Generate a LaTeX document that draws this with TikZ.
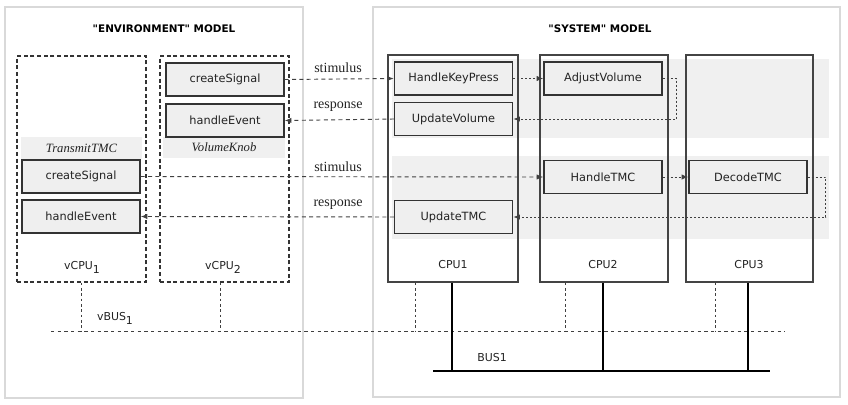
\documentclass[tikz,border=0pt]{standalone}
\usepackage{fontspec}
\setmainfont{DejaVu Sans}
\newfontfamily\serifl{Liberation Serif}
\usetikzlibrary{arrows.meta,fit,calc}
\definecolor{outerc}{HTML}{D9D9D9}
\definecolor{boxline}{HTML}{333333}
\definecolor{boxfill}{HTML}{EFEFEF}
\definecolor{bandfill}{HTML}{F0F0F0}
\definecolor{connline}{HTML}{404040}
\definecolor{cpuline}{HTML}{444444}
\definecolor{txt}{HTML}{222222}
\begin{document}
\begin{tikzpicture}[x=0.75pt,y=-0.75pt,
  box/.style={draw=boxline, fill=boxfill, line width=1.1pt, minimum width=88.5pt, minimum height=24.75pt, inner sep=0pt, font=\fontsize{8.5}{10}\selectfont, text=txt},
  container/.style={draw=outerc, line width=1.6pt, inner sep=0pt},
  vcpubox/.style={draw=boxline, line width=0.9pt, dash pattern=on 3pt off 2pt, inner sep=0pt},
  cpubox/.style={draw=cpuline, line width=0.8pt, inner sep=0pt},
  band/.style={fill=bandfill, draw=none, inner sep=0pt},
  conn/.style={draw=connline, line width=0.7pt, dash pattern=on 3pt off 2.5pt, -{Latex[length=5pt,width=4pt]}},
  innerconn/.style={conn, dash pattern=on 1.5pt off 1.5pt},
  vbus/.style={draw=connline, line width=0.7pt, dash pattern=on 2.5pt off 2.5pt},
  vlink/.style={draw=connline, line width=0.6pt, dash pattern=on 2pt off 2pt},
  bus/.style={draw=black, line width=1.8pt},
  buslink/.style={draw=black, line width=1.6pt},
  title/.style={font=\bfseries\fontsize{7.8}{9}\selectfont, text=black},
  lbl/.style={font=\fontsize{8.2}{9}\selectfont, text=txt, inner sep=1pt},
  msg/.style={font=\serifl\fontsize{10.5}{12}\selectfont, text=txt, inner sep=1pt},
  comp/.style={font=\serifl\itshape\fontsize{9.5}{11}\selectfont, text=txt, inner sep=0pt}
]
\useasboundingbox (0,0) rectangle (848,404);

% outer models
\node[container, fit={(5,7) (303,398)}] (envm) {};
\node[container, fit={(373,7) (840,397)}] (sysm) {};
\node[title] (envt) at (164,29) {\textquotedbl ENVIRONMENT\textquotedbl{} MODEL};
\node[title] (syst) at (600,29) {\textquotedbl SYSTEM\textquotedbl{} MODEL};

% grey bands of the system model
\node[band, fit={(392,59) (829,138)}] (band1) {};
\node[band, fit={(392,156) (829,239)}] (band2) {};

% virtual CPUs
\node[vcpubox, fit={(17,56) (146,282)}] (vcpu1) {};
\node[vcpubox, fit={(160,56) (289,282)}] (vcpu2) {};
\node[band, fit={(21,137) (142,159)}] (tband) {};
\node[comp] (tlbl) at (tband) {TransmitTMC};
\node[band, fit={(163,137) (285,158)}] (vband) {};
\node[comp] (vlbl) at (vband) {VolumeKnob};
\node[lbl] (vcpu1l) at (82,267) {vCPU\raisebox{-3pt}{1}};
\node[lbl] (vcpu2l) at (223,267) {vCPU\raisebox{-3pt}{2}};

% CPUs
\node[cpubox, fit={(388,55) (518,282)}] (cpu1) {};
\node[cpubox, fit={(540,55) (668,282)}] (cpu2) {};
\node[cpubox, fit={(686,55) (813,282)}] (cpu3) {};
\node[lbl] (cpu1l) at (453,265) {CPU1};
\node[lbl] (cpu2l) at (603,265) {CPU2};
\node[lbl] (cpu3l) at (749,265) {CPU3};

% tasks
\node[box] (cs2) at (225,79.5) {createSignal};
\node[box] (he2) at (225,120.5) {handleEvent};
\node[box] (cs1) at (81,176.5) {createSignal};
\node[box] (he1) at (81,216.5) {handleEvent};
\node[box] (hkp) at (453.5,78.5) {HandleKeyPress};
\node[box] (uv) at (453.5,119) {UpdateVolume};
\node[box] (av) at (603,78.5) {AdjustVolume};
\node[box] (htmc) at (603,177) {HandleTMC};
\node[box] (dtmc) at (748,177) {DecodeTMC};
\node[box] (utmc) at (453.5,217) {UpdateTMC};

% messages
\draw[conn] (cs2.east) -- (hkp.west);
\draw[conn] (uv.west) -- (he2.east);
\draw[conn] (cs1.east) -- (htmc.west);
\draw[conn] (utmc.west) -- (he1.east);
\node[msg] (stim1) at (338,68) {stimulus};
\node[msg] (resp1) at (338,107) {response};
\node[msg] (stim2) at (338,167) {stimulus};
\node[msg] (resp2) at (338,205) {response};

\draw[innerconn] (hkp.east) -- (av.west);
\draw[innerconn] (av.east) -- ++(14,0) |- (uv.east);
\draw[innerconn] (htmc.east) -- (dtmc.west);
\draw[innerconn] (dtmc.east) -- ++(18,0) |- (utmc.east);

% virtual bus
\coordinate (vbl) at (51,331);
\coordinate (vbr) at (785,331);
\draw[vbus] (vbl) -- (vbr);
\node[lbl] (vbusl) at (115,318) {vBUS\raisebox{-3pt}{1}};
\draw[vlink] (vcpu1.south) -- (vcpu1.south |- vbl);
\draw[vlink] ($(vcpu2.south)+(-4.5,0)$) coordinate (v2s) -- (v2s |- vbl);
\draw[vlink] ($(cpu1.south)+(-38,0)$) coordinate (c1s) -- (c1s |- vbl);
\draw[vlink] ($(cpu2.south)+(-39,0)$) coordinate (c2s) -- (c2s |- vbl);
\draw[vlink] ($(cpu3.south)+(-34.5,0)$) coordinate (c3s) -- (c3s |- vbl);

% physical bus
\coordinate (bl) at (433,371);
\coordinate (br) at (770,371);
\draw[bus] (bl) -- (br);
\node[lbl] (busl) at (492,358) {BUS1};
\draw[buslink] ($(cpu1.south)+(-1,0)$) coordinate (p1) -- (p1 |- bl);
\draw[buslink] ($(cpu2.south)+(-1,0)$) coordinate (p2) -- (p2 |- bl);
\draw[buslink] ($(cpu3.south)+(-1.5,0)$) coordinate (p3) -- (p3 |- bl);
\end{tikzpicture}
\end{document}
